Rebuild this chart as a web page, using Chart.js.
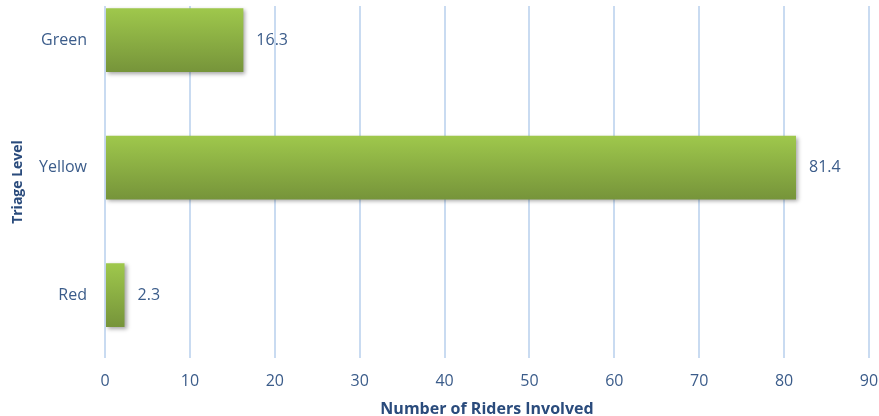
<!DOCTYPE html>
<html>
<head>
<meta charset="utf-8">
<script src="https://cdn.jsdelivr.net/npm/chart.js@4/dist/chart.umd.min.js"></script>
<style>
  html, body { margin: 0; padding: 0; background: #fff; }
  #wrap { width: 879px; height: 416px; }
</style>
</head>
<body>
<div id="wrap"><canvas id="chart"></canvas></div>
<script>
const levels = ['Green', 'Yellow', 'Red'];
const riders = [16.3, 81.4, 2.3];
const xMin = 0, xMax = 90, xStep = 10;

const textBlue = '#3b5c8a';
const titleBlue = '#2a4b7c';
const font = '"Open Sans", "DejaVu Sans", sans-serif';

// each bar gets its own top-to-bottom gradient
function barFill(context) {
  const chart = context.chart;
  const y = chart.scales.y;
  if (!chart.chartArea || !y) return '#8db247';
  const mid = y.getPixelForValue(context.dataIndex);
  const half = 32;
  const g = chart.ctx.createLinearGradient(0, mid - half, 0, mid + half);
  g.addColorStop(0, '#9fc84c');
  g.addColorStop(1, '#76943a');
  return g;
}

const shadow = {
  id: 'shadow',
  beforeDatasetsDraw(chart) {
    const ctx = chart.ctx;
    ctx.save();
    ctx.shadowColor = 'rgba(0,0,0,0.35)';
    ctx.shadowBlur = 4;
    ctx.shadowOffsetX = 2;
    ctx.shadowOffsetY = 2;
  },
  afterDatasetsDraw(chart) {
    chart.ctx.restore();
  }
};

const valueLabels = {
  id: 'valueLabels',
  afterDraw(chart) {
    const ctx = chart.ctx;
    const meta = chart.getDatasetMeta(0);
    ctx.save();
    ctx.font = '16px ' + font;
    ctx.fillStyle = textBlue;
    ctx.textAlign = 'left';
    ctx.textBaseline = 'middle';
    meta.data.forEach((bar, i) => {
      ctx.fillText(riders[i].toFixed(1), bar.x + 13, bar.y);
    });
    ctx.restore();
  }
};

new Chart(document.getElementById('chart'), {
  type: 'bar',
  data: {
    datasets: [{
      data: riders.map((v, i) => ({ x: v, y: i })),
      backgroundColor: barFill,
      borderWidth: 0,
      barPercentage: 1,
      categoryPercentage: 0.5
    }]
  },
  options: {
    indexAxis: 'y',
    responsive: true,
    maintainAspectRatio: false,
    animation: false,
    layout: { padding: { top: 6, right: 0, left: 0, bottom: 0 } },
    plugins: {
      legend: { display: false },
      tooltip: { enabled: false }
    },
    scales: {
      x: {
        type: 'linear',
        min: xMin,
        max: xMax,
        afterFit(scale) {
          scale.height = 58;
          scale.paddingRight = 10;
        },
        grid: { color: '#c9dbf1', lineWidth: 2, drawTicks: false },
        border: { display: false },
        ticks: {
          stepSize: xStep,
          padding: 14,
          color: textBlue,
          font: { family: font, size: 16 }
        },
        title: {
          display: true,
          text: 'Number of Riders Involved',
          color: titleBlue,
          padding: { top: 0, bottom: -3 },
          font: { family: font, size: 16, weight: 'bold' }
        }
      },
      y: {
        type: 'linear',
        reverse: true,
        offset: false,
        min: -0.267,
        max: 2.494,
        afterFit(scale) {
          scale.width = 105;
          scale.paddingTop = 0;
          scale.paddingBottom = 0;
        },
        afterBuildTicks(scale) {
          scale.ticks = scale.ticks.filter(t => Number.isInteger(t.value));
        },
        grid: { display: false, drawTicks: false },
        border: { display: false },
        ticks: {
          stepSize: 1,
          padding: 18,
          color: textBlue,
          font: { family: font, size: 16 },
          callback: v => levels[v]
        },
        title: {
          display: true,
          text: 'Triage Level',
          color: titleBlue,
          padding: { top: 10, bottom: 0 },
          font: { family: font, size: 14, weight: 'bold' }
        }
      }
    }
  },
  plugins: [shadow, valueLabels]
});
</script>
</body>
</html>
